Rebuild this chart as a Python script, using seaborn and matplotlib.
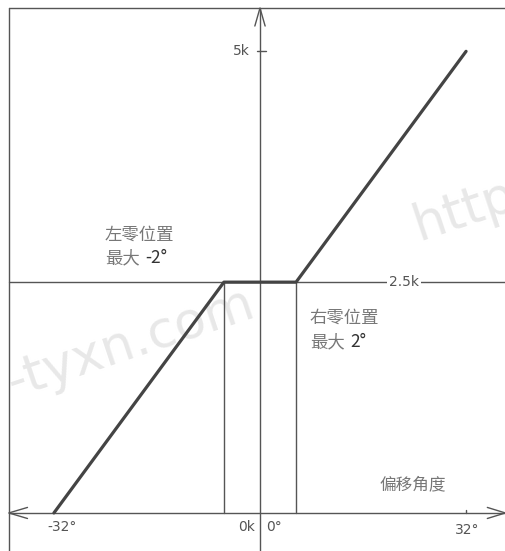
import matplotlib
matplotlib.use("Agg")
import matplotlib.pyplot as plt
import seaborn as sns
import pandas as pd

sns.set_theme(style="white")
plt.rcParams['font.family'] = ['Noto Sans CJK SC', 'DejaVu Sans']

# ---- data ----
angles = [-32, -5.6, 5.6, 32]          # offset angle (schematic)
speeds = [0, 2500, 2500, 5000]         # output value
zero_left = -5.6
zero_right = 5.6
mid_level = 2500
ytick_labels = ["5k", "2.5k", "0k"]
xtick_labels = ["-32°", "0°", "32°"]

df = pd.DataFrame({"angle": angles, "value": speeds})

W, H = 506, 551
fig = plt.figure(figsize=(W / 100, H / 100), dpi=100)
ax = fig.add_axes([0, 0, 1, 1])
ax.set_xlim(-40.37, 38.2)
ax.set_ylim(-412, 5556)
ax.axis("off")

axc = "#555555"
left_b, top_b = -39.0, 5469
xr = 38.2

# border (left & top)
ax.plot([left_b, left_b], [-412, top_b], color=axc, lw=1.0)
ax.plot([left_b, xr], [top_b, top_b], color=axc, lw=1.0)

# watermark
wm = dict(color="#e8e8e8", fontsize=37, rotation=18.5, rotation_mode="anchor",
          ha="left", va="baseline", family=["DejaVu Sans"], zorder=0)
ax.text(-38.3, 1250, "-tyxn.com", **wm)
ax.text(24.6, 2950, "http", **wm)

# axes
ax.plot([left_b, xr], [0, 0], color=axc, lw=1.0)
ax.plot([0, 0], [-412, top_b], color=axc, lw=1.0)
# arrows
ax.plot([-0.8, 0, 0.8], [top_b - 195, top_b, top_b - 195], color=axc, lw=1.0)
ax.plot([left_b + 2.9, left_b, left_b + 2.9], [60, 0, -60], color=axc, lw=1.0)
ax.plot([xr - 2.9, xr - 0.1, xr - 2.9], [60, 0, -60], color=axc, lw=1.0)

# 2.5k line and zero-position verticals
ax.plot([left_b, xr], [mid_level, mid_level], color=axc, lw=1.0)
ax.plot([zero_left, zero_left], [0, mid_level], color=axc, lw=1.0)
ax.plot([zero_right, zero_right], [0, mid_level], color=axc, lw=1.0)

# ticks
ax.plot([-0.45, 1.0], [5000, 5000], color=axc, lw=1.0)
ax.plot([32, 32], [0, 35], color=axc, lw=1.0)

# main line
sns.lineplot(data=df, x="angle", y="value", sort=False, estimator=None,
             color="#444444", lw=2.3, ax=ax, zorder=5)
ax.set_xlabel("")
ax.set_ylabel("")

tc = "#555555"
tf = dict(color=tc, fontsize=10, family=["DejaVu Sans"])
ax.text(-1.55, 5000, ytick_labels[0], ha="right", va="center", **tf)
ax.text(22.4, mid_level, ytick_labels[1], ha="center", va="center",
        bbox=dict(facecolor="white", edgecolor="none", pad=1.5), zorder=6, **tf)
ax.text(-0.8, -152, ytick_labels[2], ha="right", va="center", **tf)
ax.text(0.9, -152, xtick_labels[1], ha="left", va="center", **tf)
ax.text(-30.7, -152, xtick_labels[0], ha="center", va="center", **tf)
ax.text(32.1, -184, xtick_labels[2], ha="center", va="center", **tf)

cc = "#777777"
ax.text(18.6, 303, "偏移角度", color=cc, fontsize=12, ha="left", va="center")
ax.text(-24.1, 3011, "左零位置", color=cc, fontsize=12.5, ha="left", va="center")
t1 = ax.text(-24.1, 2762, "最大", color=cc, fontsize=12.5, ha="left", va="center")
ax.annotate("-2°", xy=(1, 0.5), xycoords=t1, xytext=(4, 0), textcoords="offset points",
            color="#333333", fontsize=12.5, ha="left", va="center")
ax.text(7.76, 2112, "右零位置", color=cc, fontsize=12.5, ha="left", va="center")
t2 = ax.text(7.76, 1852, "最大", color=cc, fontsize=12.5, ha="left", va="center")
ax.annotate("2°", xy=(1, 0.5), xycoords=t2, xytext=(4, 0), textcoords="offset points",
            color="#333333", fontsize=12.5, ha="left", va="center")

fig.savefig("out.png", dpi=100, facecolor="white")
